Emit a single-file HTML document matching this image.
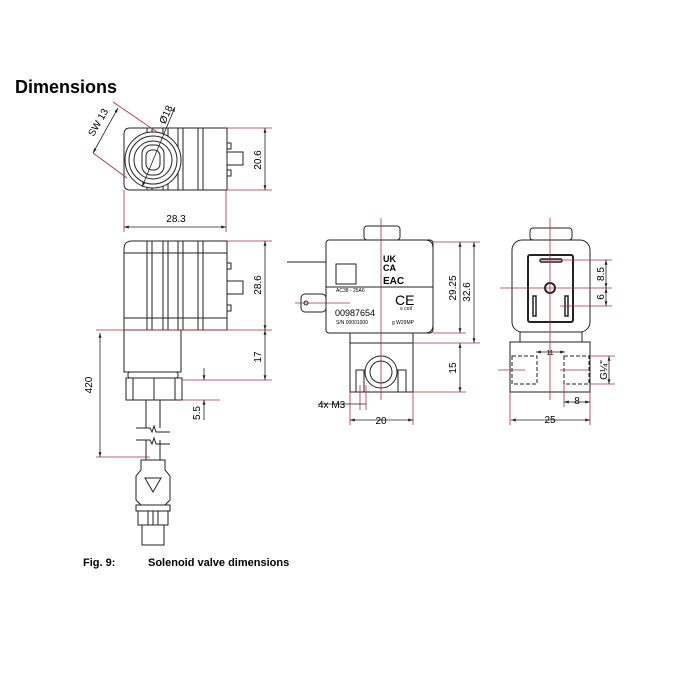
<!DOCTYPE html>
<html><head><meta charset="utf-8"><style>
html,body{margin:0;padding:0;background:#fff}
svg{display:block}
text{font-family:"Liberation Sans",Arial,sans-serif;fill:#000}
</style></head><body>
<svg width="700" height="700" viewBox="0 0 700 700" xmlns="http://www.w3.org/2000/svg">
<defs>
<marker id="a" viewBox="0 0 10 10" refX="10" refY="5" markerWidth="6" markerHeight="6" orient="auto-start-reverse"><path d="M0 2 L10 5 L0 8Z" fill="#222"/></marker>
</defs>
<text x="15" y="93" font-size="18" font-weight="bold">Dimensions</text>

<g fill="none" stroke="#222" stroke-width="1">
<path d="M130 128 H227 V190 H130 Q124 190 124 184 V134 Q124 128 130 128Z"/>
<line x1="147" y1="128" x2="147" y2="190"/><line x1="152" y1="128" x2="152" y2="190"/>
<line x1="163" y1="128" x2="163" y2="190"/><line x1="168" y1="128" x2="168" y2="190"/>
<line x1="178" y1="128" x2="178" y2="190"/><line x1="183" y1="128" x2="183" y2="190"/>
<line x1="198" y1="128" x2="198" y2="190"/><line x1="203" y1="128" x2="203" y2="190"/>
<circle cx="153" cy="160" r="28" fill="#fff"/><circle cx="153" cy="160" r="24"/><circle cx="153" cy="160" r="19"/>
<rect x="142" y="145" width="22" height="30" rx="9"/><rect x="146" y="150" width="14" height="20" rx="6"/>
<rect x="227" y="152" width="16" height="13"/>
<rect x="227" y="143" width="4" height="6"/><rect x="227" y="170" width="4" height="6"/>
<path d="M132 241 H227 V330 H124 V249 Q124 241 132 241Z"/>
<line x1="124" y1="253" x2="227" y2="253"/><line x1="124" y1="318" x2="227" y2="318"/>
<line x1="147" y1="241" x2="147" y2="330"/><line x1="152" y1="241" x2="152" y2="330"/>
<line x1="163" y1="241" x2="163" y2="330"/><line x1="168" y1="241" x2="168" y2="330"/>
<line x1="178" y1="241" x2="178" y2="330"/><line x1="183" y1="241" x2="183" y2="330"/>
<line x1="198" y1="241" x2="198" y2="330"/><line x1="203" y1="241" x2="203" y2="330"/>
<rect x="227" y="281" width="16" height="13"/>
<rect x="227" y="263" width="4" height="6"/><rect x="227" y="305" width="4" height="6"/>
<rect x="124" y="330" width="57" height="42"/>
<rect x="128" y="372" width="50" height="6" rx="2"/>
<rect x="126" y="378" width="56" height="22"/><line x1="133" y1="378" x2="133" y2="400"/><line x1="154" y1="378" x2="154" y2="400"/><line x1="175" y1="378" x2="175" y2="400"/>
<line x1="146" y1="400" x2="146" y2="428"/><line x1="160" y1="400" x2="160" y2="428"/>
<line x1="146" y1="440" x2="146" y2="460"/><line x1="160" y1="440" x2="160" y2="460"/>
<path d="M136 428 H150 L152 432 L154 426 L156 432 H170 M136 440 H150 L152 444 L154 438 L156 444 H170"/>
<path d="M141 460 H165 V470 L170 476 V500 L165 505 H141 L136 500 V476 L141 470Z"/>
<path d="M145 478 H161 L153 492Z"/>
<rect x="136" y="505" width="34" height="6"/><rect x="138" y="511" width="30" height="14"/>
<line x1="148" y1="511" x2="148" y2="525"/><line x1="153" y1="511" x2="153" y2="525"/><line x1="158" y1="511" x2="158" y2="525"/>
<rect x="142" y="525" width="22" height="20"/>

<rect x="364" y="226" width="36" height="14" rx="3"/>
<rect x="326" y="240" width="107" height="93" rx="3"/>
<path d="M425 240 Q433 240 433 248 V325 Q433 333 425 333"/>
<line x1="326" y1="287" x2="433" y2="287"/>
<rect x="336" y="264" width="20" height="20"/>
<line x1="287" y1="262" x2="326" y2="262"/>
<rect x="301" y="294" width="25" height="18" rx="4"/><circle cx="306" cy="303" r="2"/>
<rect x="350" y="333" width="63" height="59"/>
<line x1="350" y1="343" x2="413" y2="343"/>
<circle cx="381" cy="372" r="16"/><circle cx="381" cy="372" r="11"/>
<rect x="356" y="370" width="8" height="22"/><rect x="398" y="370" width="8" height="22"/>

<rect x="530" y="228" width="42" height="12" rx="3"/>
<rect x="512" y="240" width="78" height="92" rx="10"/>
<rect x="528" y="255" width="45" height="67" rx="2" stroke-width="2"/>
<rect x="540" y="259" width="22" height="3" rx="1.5" stroke-width="1.5"/>
<circle cx="550" cy="288" r="5" stroke-width="2"/>
<rect x="533" y="296" width="3" height="20" stroke-width="1.5"/><rect x="565" y="296" width="3" height="20" stroke-width="1.5"/>
<rect x="520" y="332" width="62" height="10"/>
<rect x="510" y="342" width="80" height="50"/>
<g stroke-dasharray="4,2"><rect x="512" y="356" width="25" height="28"/><rect x="564" y="356" width="25" height="28"/></g>
</g>

<g stroke="#a0304a" stroke-width="0.8" fill="none">
<line x1="227" y1="128" x2="272" y2="128"/><line x1="227" y1="190" x2="272" y2="190"/>
<line x1="124" y1="190" x2="124" y2="232"/><line x1="226" y1="190" x2="226" y2="232"/>
<line x1="227" y1="241" x2="272" y2="241"/><line x1="96" y1="330" x2="272" y2="330"/>
<line x1="96" y1="457" x2="150" y2="457"/>
<line x1="182" y1="380" x2="272" y2="380"/><line x1="182" y1="400" x2="220" y2="400"/>
<line x1="113" y1="102" x2="157" y2="132"/><line x1="93" y1="153" x2="127" y2="178"/>
<line x1="381" y1="218" x2="381" y2="400"/><line x1="295" y1="303" x2="350" y2="303"/>
<line x1="433" y1="242" x2="480" y2="242"/><line x1="433" y1="333" x2="466" y2="333"/>
<line x1="413" y1="343" x2="480" y2="343"/><line x1="413" y1="392" x2="466" y2="392"/>
<line x1="350" y1="392" x2="350" y2="425"/><line x1="413" y1="392" x2="413" y2="425"/>
<line x1="360" y1="385" x2="360" y2="410"/><line x1="366" y1="385" x2="366" y2="410"/>
<line x1="550" y1="218" x2="550" y2="400"/>
<line x1="540" y1="260" x2="612" y2="260"/><line x1="500" y1="288" x2="612" y2="288"/><line x1="560" y1="306" x2="612" y2="306"/>
<line x1="498" y1="370" x2="525" y2="370"/><line x1="560" y1="370" x2="590" y2="370"/>
<line x1="590" y1="356" x2="615" y2="356"/><line x1="590" y1="384" x2="615" y2="384"/>
<line x1="510" y1="392" x2="510" y2="425"/><line x1="590" y1="392" x2="590" y2="425"/><line x1="564" y1="384" x2="564" y2="407"/>
</g>

<g stroke="#222" stroke-width="0.8" fill="none" marker-start="url(#a)" marker-end="url(#a)">
<line x1="265" y1="128" x2="265" y2="190"/><line x1="124" y1="227" x2="226" y2="227"/>
<line x1="265" y1="241" x2="265" y2="330"/><line x1="265" y1="330" x2="265" y2="380"/>
<line x1="100" y1="333" x2="100" y2="457"/>
<line x1="118" y1="108" x2="93" y2="153"/>
<line x1="175" y1="107" x2="142" y2="187"/>
<line x1="460" y1="242" x2="460" y2="333"/><line x1="474" y1="242" x2="474" y2="343"/>
<line x1="460" y1="343" x2="460" y2="392"/><line x1="350" y1="420" x2="413" y2="420"/>
<line x1="606" y1="260" x2="606" y2="288"/><line x1="606" y1="288" x2="606" y2="306"/><line x1="609" y1="356" x2="609" y2="384"/>
<line x1="564" y1="402" x2="590" y2="402"/><line x1="511" y1="420" x2="590" y2="420"/>
<line x1="536" y1="352" x2="565" y2="352"/>
</g>
<g stroke="#222" stroke-width="0.8" fill="none">
<line x1="204" y1="368" x2="204" y2="380" marker-end="url(#a)"/><line x1="204" y1="420" x2="204" y2="400" marker-end="url(#a)"/>
<line x1="318" y1="404" x2="366" y2="404"/>
</g>

<g font-size="10">
<text transform="translate(261,160) rotate(-90)" text-anchor="middle">20.6</text>
<text x="176" y="222" text-anchor="middle">28.3</text>
<text transform="translate(261,285) rotate(-90)" text-anchor="middle">28.6</text>
<text transform="translate(261,357) rotate(-90)" text-anchor="middle">17</text>
<text transform="translate(92,385) rotate(-90)" text-anchor="middle">420</text>
<text transform="translate(200,413) rotate(-90)" text-anchor="middle">5.5</text>
<text transform="translate(101,124) rotate(-60)" text-anchor="middle">SW 13</text>
<text transform="translate(169,116) rotate(-65)" text-anchor="middle">Ø18</text>
<text transform="translate(456,288) rotate(-90)" text-anchor="middle">29.25</text>
<text transform="translate(470,292) rotate(-90)" text-anchor="middle">32.6</text>
<text transform="translate(456,368) rotate(-90)" text-anchor="middle">15</text>
<text x="381" y="424" text-anchor="middle">20</text>
<text x="318" y="408">4x M3</text>
<text transform="translate(604,274) rotate(-90)" text-anchor="middle">8.5</text>
<text transform="translate(604,297) rotate(-90)" text-anchor="middle">6</text>
<text transform="translate(607,370) rotate(-90)" text-anchor="middle">G¼"</text>
<text x="577" y="404" text-anchor="middle">8</text>
<text x="550" y="423" text-anchor="middle">25</text>
<text x="550" y="355" text-anchor="middle" font-size="7">11</text>
</g>
<g font-size="5">
<text x="336" y="292">AC38 - 25A6</text>
<text x="336" y="324">S/N 00001000</text>
<text x="392" y="324">g  W29MP</text>
<text x="400" y="310">≡ coil</text>
</g>
<text x="335" y="316" font-size="9">00987654</text>
<text x="395" y="305" font-size="14">CE</text>
<text x="383" y="262" font-size="9" font-weight="bold">UK</text>
<text x="383" y="271" font-size="9" font-weight="bold">CA</text>
<text x="383" y="284" font-size="10" font-weight="bold">EAC</text>
<text x="83" y="566" font-size="11" font-weight="bold">Fig. 9:</text>
<text x="148" y="566" font-size="11" font-weight="bold">Solenoid valve dimensions</text>
</svg>
</body></html>
